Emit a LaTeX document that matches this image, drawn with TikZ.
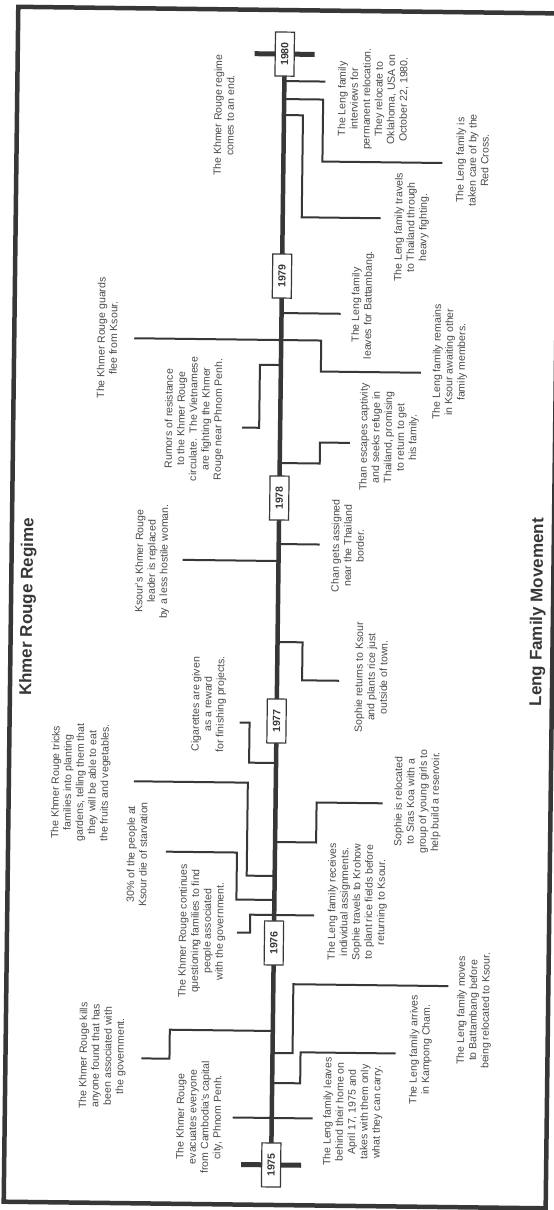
\documentclass[tikz,border=0pt]{standalone}
\usepackage{fontspec}
\setmainfont{Liberation Sans}
\definecolor{inkgray}{RGB}{55,55,55}
\definecolor{textgray}{RGB}{75,75,75}

\tikzset{
  event/.style={rotate=90, align=center, text=textgray, inner sep=0pt,
    font=\fontsize{10.5}{12.3}\selectfont},
  yearbox/.style={draw=inkgray, fill=white, line width=1.2pt, rotate=90,
    minimum width=44pt, minimum height=19pt, inner sep=0pt, text=inkgray,
    font=\fontsize{10.5}{12}\selectfont\bfseries},
  branch/.style={draw=inkgray, line width=2pt},
  heading/.style={rotate=90, text=inkgray, inner sep=0pt,
    font=\fontsize{17}{20}\selectfont\bfseries}
}

\begin{document}
\begin{tikzpicture}[x=1pt,y=-1pt]
  \useasboundingbox (0,0) rectangle (554,1210);
  \fill[white] (0,0) rectangle (554,1210);
  \begin{scope}[rotate around={-0.7:(277,605)}, transform shape]
    % frame
    \draw[line width=4.5pt, inkgray] (11,10) rectangle (553,1205);

    % headings
    \node[heading] (khmer) at (28,610) {Khmer Rouge Regime};
    \node[heading] (leng) at (538,609) {Leng Family Movement};

    % main line and end bars
    \coordinate (start) at (278,1165);
    \coordinate (end) at (278,54);
    \draw[line width=4.5pt, inkgray] (start) -- (end);
    \draw[line width=5pt, inkgray] ([xshift=-30pt]start) -- ([xshift=30pt]start);
    \draw[line width=5pt, inkgray] ([xshift=-30pt]end) -- ([xshift=30pt]end);

    % branches, Khmer Rouge side (left)
    \draw[branch] (278,365) -- (257,365) -- (257,428) -- (240,428);
    \draw[branch] (278,561) -- (182,561);
    \draw[branch] (278,763) -- (251,763) -- (251,723) -- (241,723);
    \draw[branch] (278,876) -- (250,876) -- (250,783) -- (136,783);
    \draw[branch] (278,900) -- (240,900) -- (240,853) -- (169,853);
    \draw[branch] (278,915) -- (254,915) -- (254,933) -- (241,933);
    \draw[branch] (278,1031) -- (175,1031) -- (175,1060) -- (147,1060);
    \draw[branch] (278,1118) -- (239,1118);
    \draw[branch] (278,340) -- (131,340);

    % branches, Leng family side (right)
    \draw[branch] (278,81) -- (319,81);
    \draw[branch] (278,99) -- (317,99) -- (317,161) -- (437,161);
    \draw[branch] (278,115) -- (297,115) -- (297,217) -- (376,217);
    \draw[branch] (278,313) -- (337,313);
    \draw[branch] (278,340) -- (318,340) -- (318,371) -- (418,371);
    \draw[branch] (278,463) -- (318,463) -- (318,442) -- (348,442);
    \draw[branch] (278,544) -- (319,544);
    \draw[branch] (278,642) -- (303,642) -- (303,680) -- (340,680);
    \draw[branch] (278,842) -- (319,842) -- (319,802) -- (385,802);
    \draw[branch] (278,915) -- (318,915);
    \draw[branch] (278,1053) -- (298,1053) -- (298,984) -- (453,984);
    \draw[branch] (278,1083) -- (306,1083) -- (306,1052) -- (401,1052);
    \draw[branch] (278,1118) -- (319,1118);

    % year boxes
    \foreach \yr/\yy in {1980/54,1979/276,1978/498,1977/721,1976/943,1975/1165}
      \node[yearbox] (y\yr) at (278,\yy) {\yr};

    % Khmer Rouge events
    \node[event] (krend) at (218,116) {The Khmer Rouge regime\\comes to an end.};
    \node[event] (krflee) at (104,340) {The Khmer Rouge guards\\flee from Ksour.};
    \node[event] (krrumor) at (192,420) {Rumors of resistance\\to the Khmer Rouge\\circulate.\ \ The Vietnamese\\are fighting the Khmer\\Rouge near Phnom Penh.};
    \node[event] (krleader) at (152,563) {Ksour's Khmer Rouge\\leader is replaced\\by a less hostile woman.};
    \node[event] (krcig) at (210,705) {Cigarettes are given\\as a reward\\for finishing projects.};
    \node[event] (krgarden) at (83,785) {The Khmer Rouge tricks\\families into planting\\gardens, telling them that\\they will be able to eat\\the fruits and vegetables.};
    \node[event] (krstarve) at (140,856) {30\% of the people at\\Ksour die of starvation};
    \node[event] (krquestion) at (206,932) {The Khmer Rouge continues\\questioning families to find\\people associated\\with the government.};
    \node[event] (krkill) at (108,1058) {The Khmer Rouge kills\\anyone found that has\\been associated with\\the government.};
    \node[event] (krevac) at (206,1118) {The Khmer Rouge\\evacuates everyone\\from Cambodia's capital\\city, Phnom Penh.};

    % Leng family events
    \node[event] (lfusa) at (367,98) {The Leng family\\interviews for\\permanent relocation.\\They relocate to\\Oklahoma, USA on\\October 22, 1980.};
    \node[event] (lfcross) at (467,158) {The Leng family is\\taken care of by the\\Red Cross.};
    \node[event] (lfthai) at (407,226) {The Leng family travels\\to Thailand through\\heavy fighting.};
    \node[event] (lfbatt) at (359,304) {The Leng family\\leaves for Battambang.};
    \node[event] (lfwait) at (447,360) {The Leng family remains\\in Ksour awaiting other\\family members.};
    \node[event] (lfthan) at (387,436) {Than escapes captivity\\and seeks refuge in\\Thailand, promising\\to return to get\\his family.};
    \node[event] (lfchan) at (347,545) {Chan gets assigned\\near the Thailand\\border.};
    \node[event] (lfrice) at (372,676) {Sophie returns to Ksour\\and plants rice just\\outside of town.};
    \node[event] (lfsras) at (420,800) {Sophie is relocated\\to Sras Koa with a\\group of young girls to\\help build a reservoir.};
    \node[event] (lfassign) at (361,901) {The Leng family receives\\individual assignments.\\Sophie travels to Krohow\\to plant rice fields before\\returning to Ksour.};
    \node[event] (lfmove) at (479,1008) {The Leng family moves\\to Battambang before\\being relocated to Ksour.};
    \node[event] (lfcham) at (426,1048) {The Leng family arrives\\in Kampong Cham.};
    \node[event] (lfhome) at (359,1111) {The Leng family leaves\\behind their home on\\April 17, 1975 and\\takes with them only\\what they can carry.};
  \end{scope}
\end{tikzpicture}
\end{document}
